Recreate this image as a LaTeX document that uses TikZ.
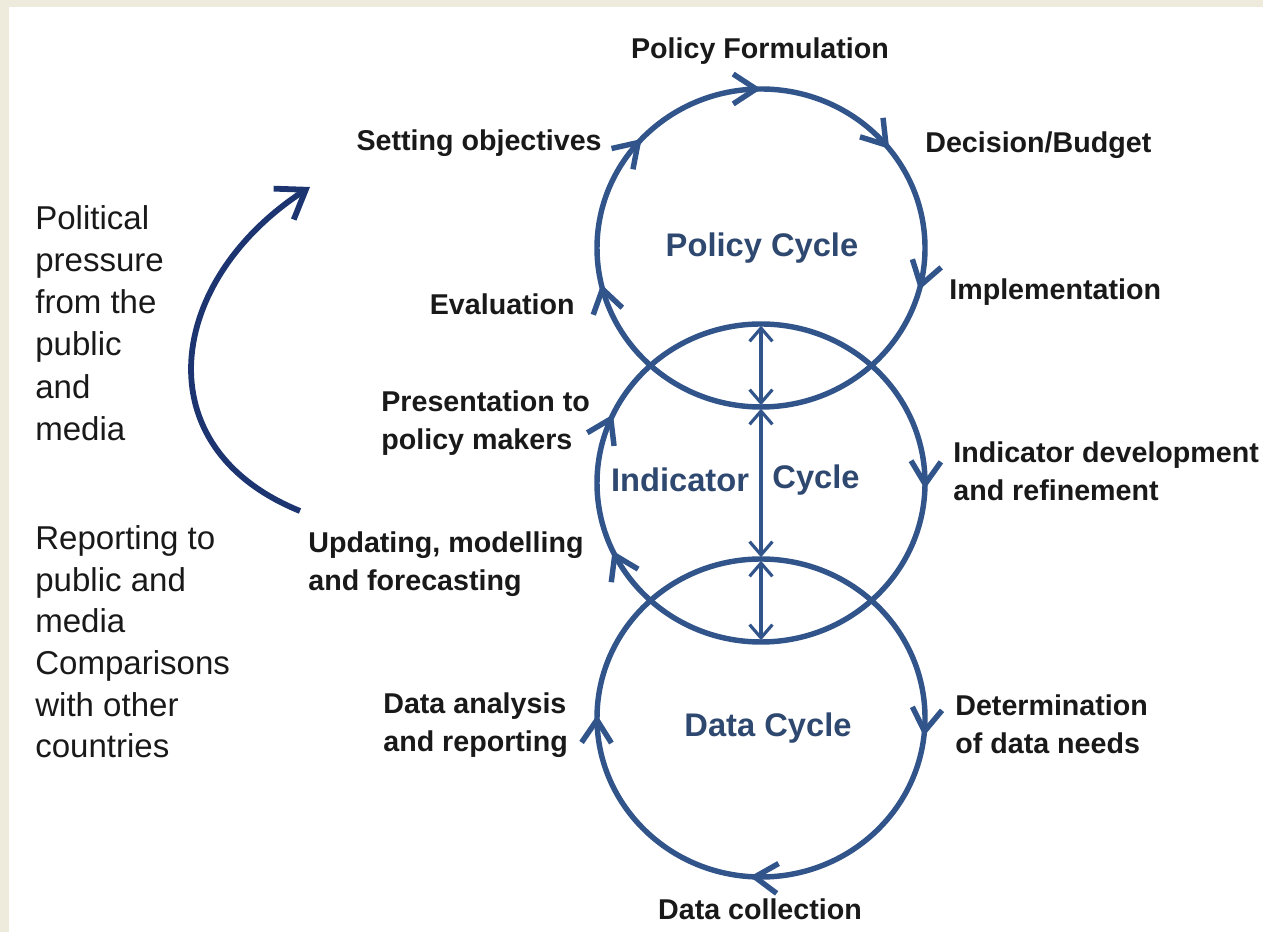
\documentclass[tikz,border=0pt]{standalone}
\usepackage{fontspec}
\setmainfont{Liberation Sans}
\usetikzlibrary{calc}
\usetikzlibrary{arrows.meta}
\usetikzlibrary{decorations.markings}
\definecolor{cycblue}{RGB}{49,84,139}
\definecolor{txtblue}{RGB}{46,72,112}
\definecolor{navyblue}{RGB}{28,52,112}
\definecolor{beige}{RGB}{238,234,220}
\definecolor{ink}{RGB}{25,25,25}

\begin{document}
\begin{tikzpicture}[x=0.02cm, y=0.02cm,
  cyc/.style={draw=cycblue, line width=3.1pt},
  chev/.style={postaction={decorate, decoration={markings,
      mark=at position #1 with {\arrow{Straight Barb[length=13pt,width=17pt]}}}}},
  link/.style={draw=cycblue, line width=1.8pt, shorten <=1pt, shorten >=1pt,
      {Straight Barb[length=7.5pt,width=13pt]}-{Straight Barb[length=7.5pt,width=13pt]}},
  lab/.style={inner sep=0pt, text=ink, align=left, font=\fontsize{16.3}{21.5}\selectfont\bfseries},
  side/.style={inner sep=0pt, text=ink, align=left, font=\fontsize{18.8}{24}\selectfont},
  cyclename/.style={inner sep=0pt, text=txtblue, font=\fontsize{18.6}{22}\selectfont\bfseries}]
  \useasboundingbox (0,0) rectangle (1263,932);
  \fill[beige] (0,925) rectangle (1263,932);
  \fill[beige] (0,0) rectangle (9,932);

  % the three cycles
  \coordinate (pol) at (761,684);
  \coordinate (ind) at (761,449);
  \coordinate (dat) at (761,214);
  \coordinate (polS) at ($(pol)+(0,-159)$);
  \coordinate (indN) at ($(ind)+(0,159)$);
  \coordinate (indS) at ($(ind)+(0,-159)$);
  \coordinate (datN) at ($(dat)+(0,159)$);

  \draw[cyc, chev=0.119, chev=0.25, chev=0.394, chev=0.542, chev=0.964]
    ($(pol)+(-164,0)$) arc[start angle=180, end angle=-180, x radius=164, y radius=159] -- cycle;
  \draw[cyc, chev=0.07, chev=0.506, chev=0.931]
    ($(ind)+(-164,0)$) arc[start angle=180, end angle=-180, x radius=164, y radius=159] -- cycle;
  \draw[cyc, chev=0.268, chev=0.511, chev=0.753]
    (datN) arc[start angle=90, end angle=-270, x radius=164, y radius=159] -- cycle;

  \draw[link] (indN) -- (polS);
  \draw[link] (polS) -- (datN);
  \draw[link] (datN) -- (indS);

  \node[cyclename] (polname) at (762,684) {Policy Cycle};
  \node[cyclename] (indname) at (680,452) {Indicator};
  \node[cyclename] (cycname) at (816,452) {Cycle};
  \node[cyclename] (datname) at (768,204) {Data Cycle};

  % stages
  \node[lab] (formul) at (760,881) {Policy Formulation};
  \node[lab, anchor=east] (objec) at (602,789) {Setting objectives};
  \node[lab, anchor=west] (budget) at (925,787) {Decision/Budget};
  \node[lab, anchor=east] (evalu) at (575,628) {Evaluation};
  \node[lab, anchor=west] (implem) at (949,640) {Implementation};
  \node[lab, anchor=west] (present) at (381,509) {Presentation to\\policy makers};
  \node[lab, anchor=west] (develop) at (953,461) {Indicator development\\and refinement};
  \node[lab, anchor=west] (update) at (308,368) {Updating, modelling\\and forecasting};
  \node[lab, anchor=west] (analys) at (383,207) {Data analysis\\and reporting};
  \node[lab, anchor=west] (needs) at (955,208) {Determination\\of data needs};
  \node[lab] (collect) at (760,23) {Data collection};

  % outside influences
  \node[side, anchor=west] (pressure) at (35,609) {Political\\pressure\\from the\\public\\and\\media};
  \node[side, anchor=west, font=\fontsize{18.8}{23.7}\selectfont] (report) at (35,290)
    {Reporting to\\public and\\media\\Comparisons\\with other\\countries};

  \coordinate (pstart) at (300,421);
  \coordinate (pend) at (310,745);
  \draw[navyblue, line width=3.3pt, -{Straight Barb[length=15pt,width=21pt]}]
    (pstart) .. controls (142,485) and (167,652) .. (pend);
\end{tikzpicture}
\end{document}
